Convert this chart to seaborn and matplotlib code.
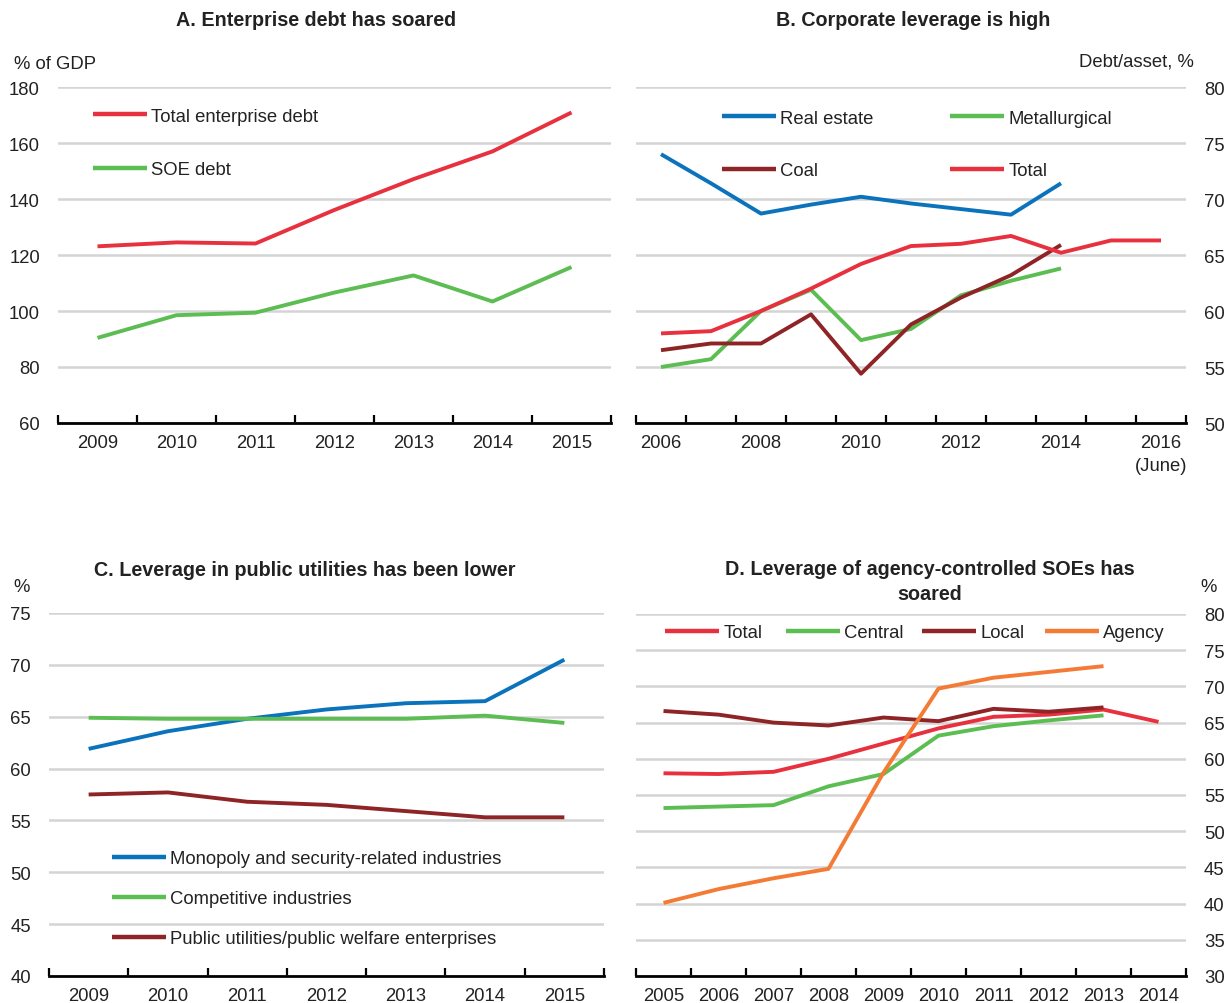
import numpy as np
import pandas as pd
import matplotlib
matplotlib.use("Agg")
import matplotlib.pyplot as plt
from matplotlib.lines import Line2D
from matplotlib.legend import Legend
import seaborn as sns

# ---------------- data ----------------
years_a = ["2009", "2010", "2011", "2012", "2013", "2014", "2015"]
total_enterprise_debt = [123.1, 124.5, 124.1, 136.1, 147.1, 157.0, 170.9]
soe_debt = [90.4, 98.5, 99.4, 106.6, 112.7, 103.4, 115.7]

years_b = ["2006", "2007", "2008", "2009", "2010", "2011", "2012", "2013",
           "2014", "2015", "2016"]
labels_b = ["2006", "", "2008", "", "2010", "", "2012", "", "2014", "",
            "2016\n(June)"]
real_estate = [74.0, 71.4, 68.7, 69.5, 70.2, 69.6, 69.1, 68.6, 71.4, None, None]
metallurgical = [55.0, 55.7, 60.0, 61.9, 57.4, 58.4, 61.4, 62.7, 63.8, None, None]
coal = [56.5, 57.1, 57.1, 59.7, 54.4, 58.8, 61.2, 63.2, 65.9, None, None]
total_b = [58.0, 58.2, 60.0, 62.0, 64.2, 65.8, 66.0, 66.7, 65.2, 66.3, 66.3]

years_c = ["2009", "2010", "2011", "2012", "2013", "2014", "2015"]
monopoly = [61.9, 63.6, 64.8, 65.7, 66.3, 66.5, 70.5]
competitive = [64.9, 64.8, 64.8, 64.8, 64.8, 65.1, 64.4]
public_utilities = [57.5, 57.7, 56.8, 56.5, 55.9, 55.3, 55.3]

years_d = ["2005", "2006", "2007", "2008", "2009", "2010", "2011", "2012",
           "2013", "2014"]
total_d = [58.0, 57.9, 58.2, 60.0, 62.1, 64.2, 65.8, 66.1, 66.8, 65.1]
central = [53.2, 53.4, 53.6, 56.2, 57.9, 63.2, 64.5, 65.3, 66.0, None]
local = [66.6, 66.1, 65.0, 64.6, 65.7, 65.2, 66.9, 66.5, 67.1, None]
agency = [40.1, 42.0, 43.5, 44.8, 58.1, 69.7, 71.2, 72.0, 72.8, None]

# ---------------- styling ----------------
RED = "#e8313f"
GREEN = "#5cbd53"
BLUE = "#0a73bb"
DARKRED = "#8f2427"
ORANGE = "#f47b35"
GRID = "#d4d4d4"
FS = 13.3
TFS = 14.2
LW = 2.8

sns.set_theme(style="white")
plt.rcParams["font.family"] = ["Liberation Sans Narrow", "Liberation Sans", "DejaVu Sans"]
plt.rcParams["text.color"] = "#222222"
plt.rcParams["xtick.color"] = "#222222"
plt.rcParams["ytick.color"] = "#222222"

W, H = 1226, 1004
fig = plt.figure(figsize=(W / 100, H / 100), dpi=100)


def px_axes(x0, x1, ytop, ybot):
    return fig.add_axes([x0 / W, 1 - ybot / H, (x1 - x0) / W, (ybot - ytop) / H])


def to_long(years, series):
    rows = []
    for name, vals in series.items():
        for i, v in enumerate(vals):
            if v is not None:
                rows.append({"pos": i, "year": years[i], "value": v, "series": name})
    return pd.DataFrame(rows)


def draw(ax, years, series, colors):
    df = to_long(years, series)
    sns.lineplot(data=df, x="pos", y="value", hue="series",
                 hue_order=list(series.keys()), palette=colors,
                 linewidth=LW, legend=False, ax=ax, estimator=None,
                 solid_capstyle="butt")


def style(ax, n, ylim, yticks, xlabels, side="left"):
    ax.set_xlim(-0.5, n - 0.5)
    ax.set_ylim(*ylim)
    ax.set_yticks(yticks)
    ax.set_yticklabels([str(t) for t in yticks], fontsize=FS)
    ax.set_xticks(range(n))
    ax.set_xticklabels(xlabels, fontsize=FS, linespacing=1.45)
    ax.set_xticks(np.arange(-0.5, n, 1.0), minor=True)
    ax.tick_params(axis="x", which="major", length=0, pad=8)
    ax.tick_params(axis="x", which="minor", direction="in", length=6,
                   width=1.6, color="black", bottom=True)
    ax.grid(axis="y", color=GRID, linewidth=1.8)
    ax.grid(axis="x", visible=False)
    ax.set_axisbelow(True)
    for s in ["top", "left", "right"]:
        ax.spines[s].set_visible(False)
    ax.spines["bottom"].set_color("black")
    ax.spines["bottom"].set_linewidth(2.0)
    ax.set_xlabel("")
    ax.set_ylabel("")
    if side == "right":
        ax.yaxis.tick_right()
    ax.tick_params(axis="y", length=0, pad=13)
    ax.set_facecolor("white")


def legend_entries(ax, entries):
    """entries: list of (label, color, x_px, y_px) -- one legend box per entry,
    anchored at the left end of its line sample."""
    for label, color, x, y in entries:
        h = Line2D([], [], color=color, linewidth=3.2, solid_capstyle="butt")
        leg = Legend(ax, [h], [label], loc="center left",
                     bbox_to_anchor=(x / W, 1 - y / H),
                     bbox_transform=fig.transFigure, frameon=False,
                     fontsize=FS, handlelength=2.95, handletextpad=0.2,
                     borderpad=0, borderaxespad=0)
        ax.add_artist(leg)


# ---- Panel A ----
axA = px_axes(58, 611, 88, 424)
draw(axA, years_a, {"Total enterprise debt": total_enterprise_debt,
                    "SOE debt": soe_debt}, [RED, GREEN])
style(axA, 7, (60, 180), list(range(60, 181, 20)), years_a)
legend_entries(axA, [("Total enterprise debt", RED, 93, 117),
                     ("SOE debt", GREEN, 93, 171)])
fig.text(316 / W, 1 - 21 / H, "A. Enterprise debt has soared", ha="center",
         va="center", fontsize=TFS, fontweight="bold")
fig.text(14 / W, 1 - 65 / H, "% of GDP", ha="left", va="center", fontsize=FS)

# ---- Panel B ----
axB = px_axes(636, 1186, 88, 424)
draw(axB, years_b, {"Real estate": real_estate, "Metallurgical": metallurgical,
                    "Coal": coal, "Total": total_b},
     [BLUE, GREEN, DARKRED, RED])
style(axB, 11, (50, 80), list(range(50, 81, 5)), labels_b, side="right")
legend_entries(axB, [("Real estate", BLUE, 722, 119),
                     ("Metallurgical", GREEN, 950, 119),
                     ("Coal", DARKRED, 722, 172),
                     ("Total", RED, 950, 172)])
fig.text(913 / W, 1 - 21 / H, "B. Corporate leverage is high", ha="center",
         va="center", fontsize=TFS, fontweight="bold")
fig.text(1194 / W, 1 - 62 / H, "Debt/asset, %", ha="right", va="center",
         fontsize=FS)

# ---- Panel C ----
axC = px_axes(49, 604, 614, 977)
draw(axC, years_c, {"Monopoly and security-related industries": monopoly,
                    "Competitive industries": competitive,
                    "Public utilities/public welfare enterprises": public_utilities},
     [BLUE, GREEN, DARKRED])
style(axC, 7, (40, 75), list(range(40, 76, 5)), years_c)
legend_entries(axC, [("Monopoly and security-related industries", BLUE, 112, 860),
                     ("Competitive industries", GREEN, 112, 900),
                     ("Public utilities/public welfare enterprises", DARKRED, 112, 940)])
fig.text(305 / W, 1 - 570 / H, "C. Leverage in public utilities has been lower",
         ha="center", va="center", fontsize=TFS, fontweight="bold")
fig.text(22 / W, 1 - 588 / H, "%", ha="center", va="center", fontsize=FS)

# ---- Panel D ----
axD = px_axes(636, 1186, 615, 977)
draw(axD, years_d, {"Total": total_d, "Central": central, "Local": local,
                    "Agency": agency}, [RED, GREEN, DARKRED, ORANGE])
style(axD, 10, (30, 80), list(range(30, 81, 5)), years_d, side="right")
legend_entries(axD, [("Total", RED, 665, 634),
                     ("Central", GREEN, 786, 634),
                     ("Local", DARKRED, 922, 634),
                     ("Agency", ORANGE, 1045, 634)])
fig.text(930 / W, 1 - 582 / H, "D. Leverage of agency-controlled SOEs has\nsoared",
         ha="center", va="center", fontsize=TFS, fontweight="bold",
         linespacing=1.45)
fig.text(1209 / W, 1 - 587 / H, "%", ha="center", va="center", fontsize=FS)

fig.savefig("out.png", dpi=100, facecolor="white")
